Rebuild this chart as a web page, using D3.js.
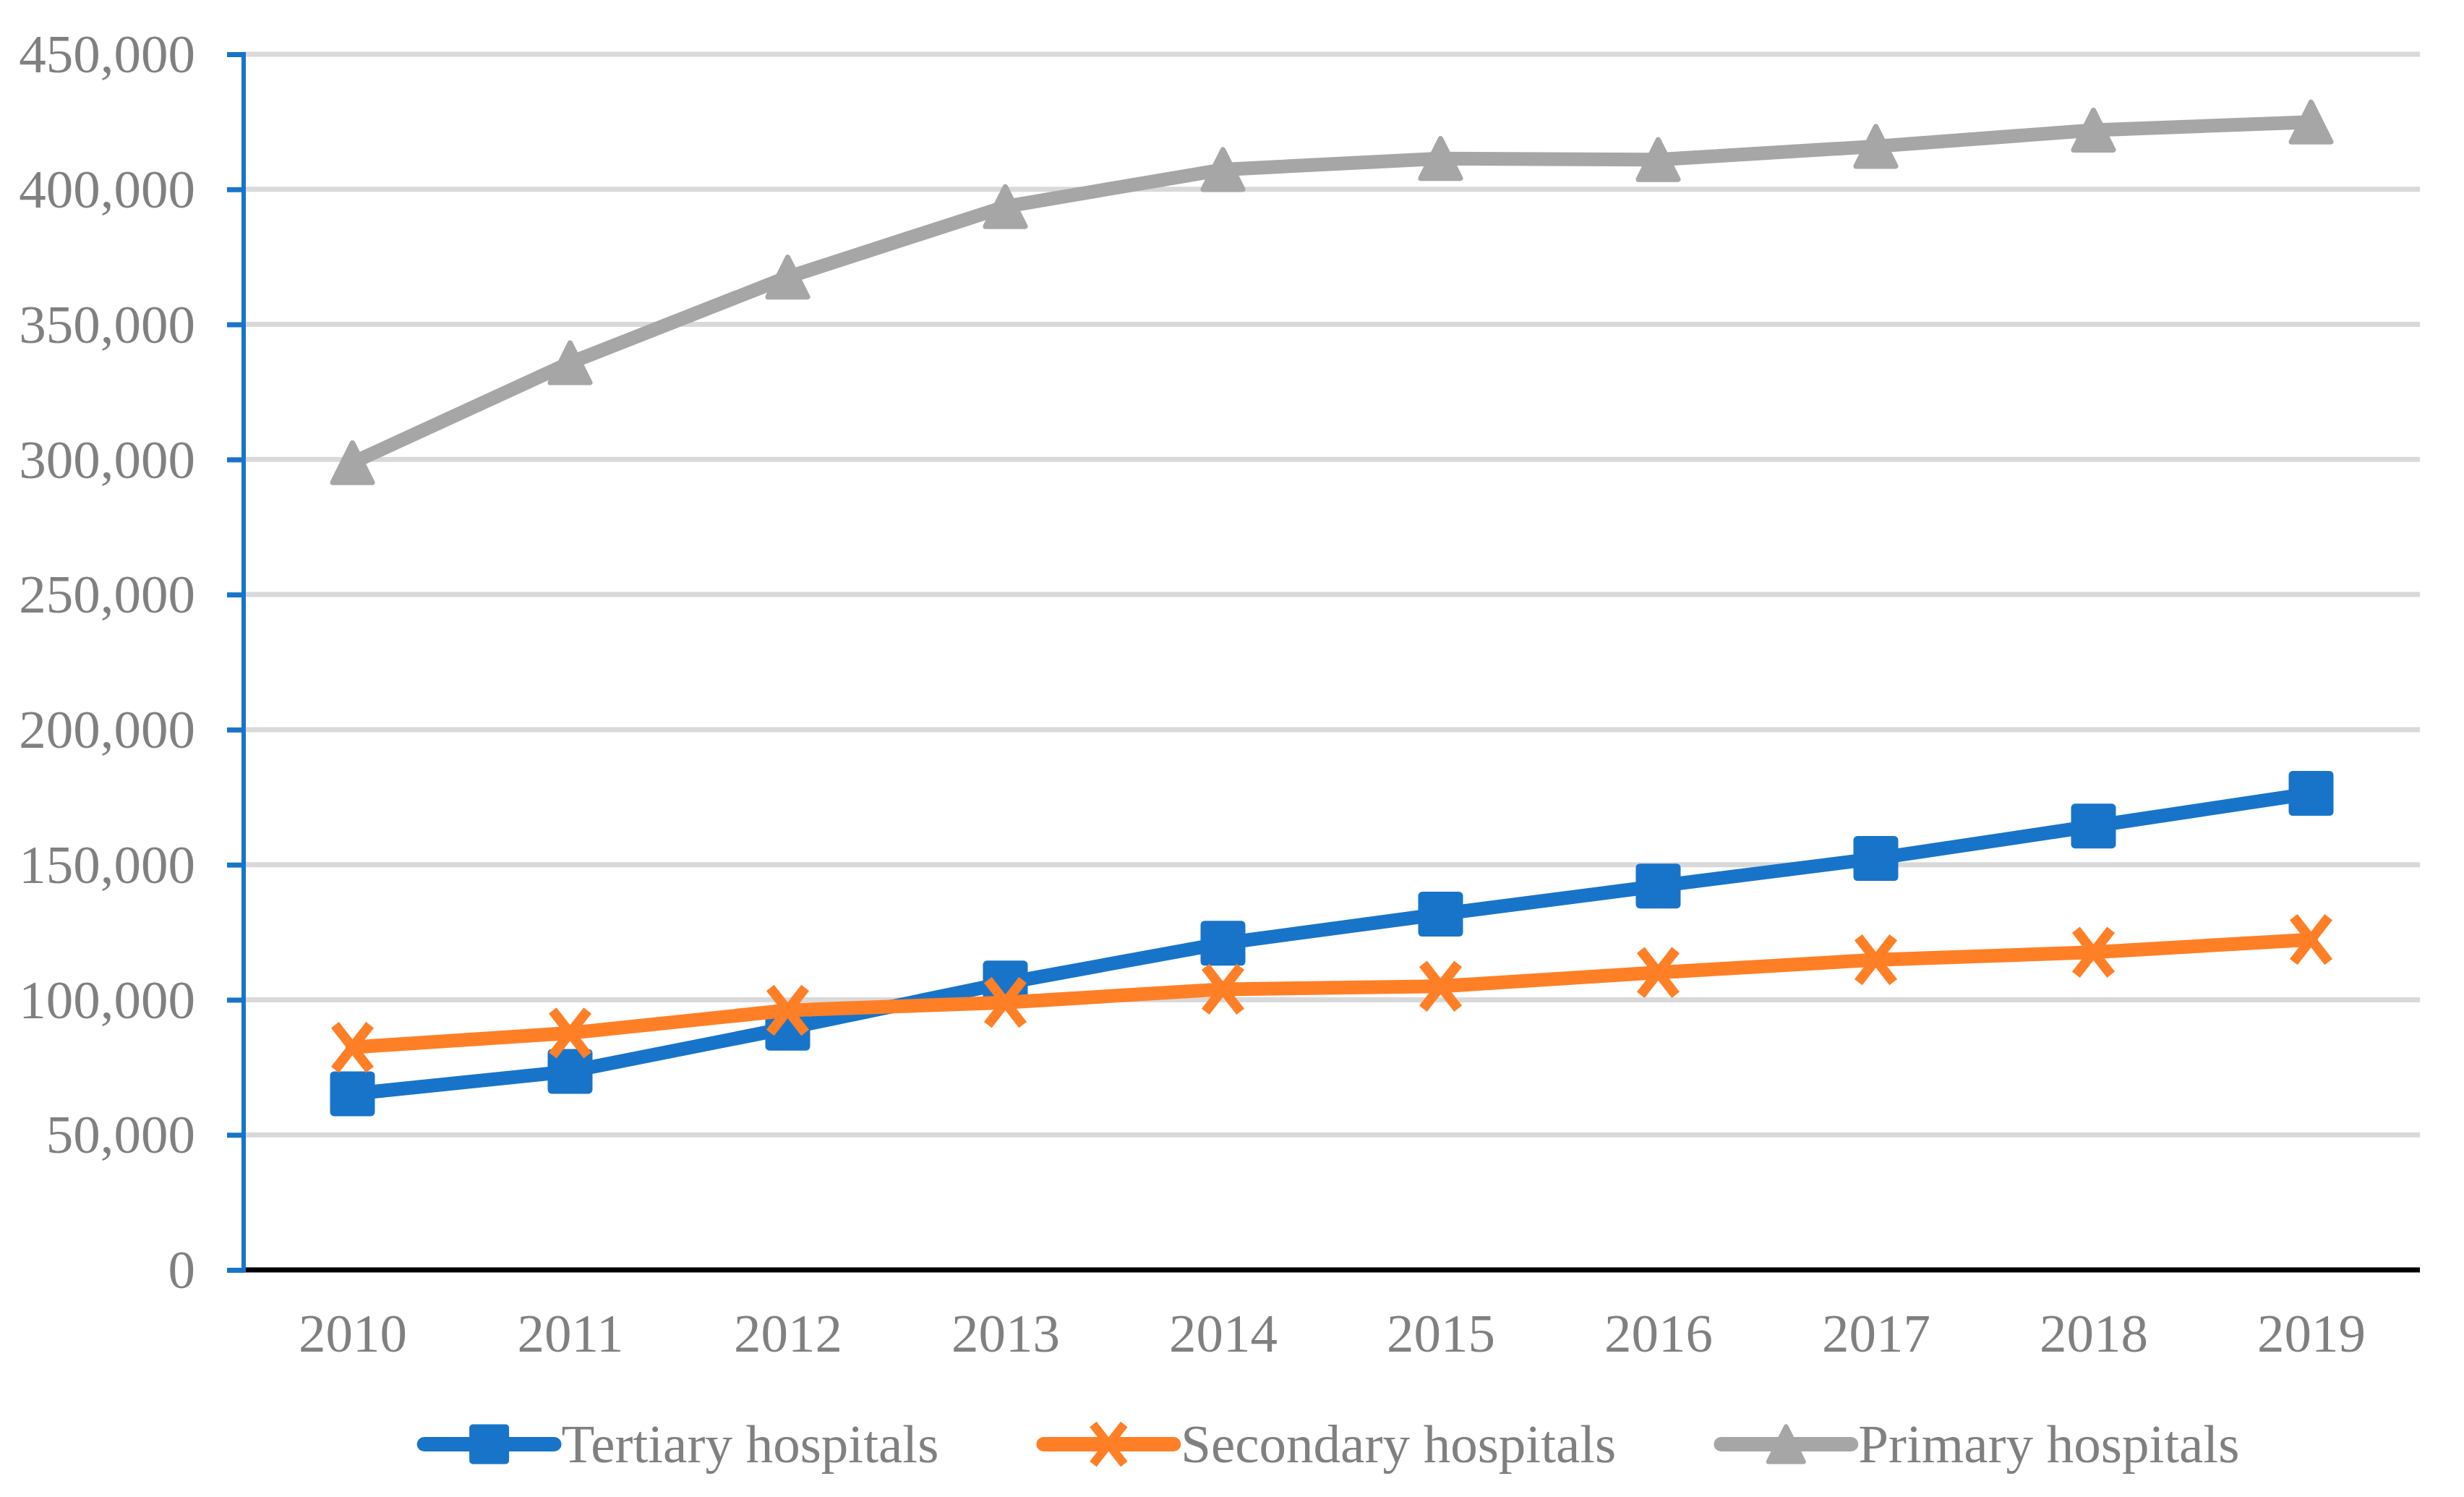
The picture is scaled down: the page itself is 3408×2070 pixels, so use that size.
<!DOCTYPE html>
<html>
<head>
<meta charset="utf-8">
<script src="https://cdn.jsdelivr.net/npm/d3@7"></script>
<style>
  html, body { margin: 0; padding: 0; background: #ffffff; }
  svg { display: block; }
</style>
</head>
<body>
<svg id="chart" width="3408" height="2070"></svg>
<script>
// ---- data ----
const years = ["2010","2011","2012","2013","2014","2015","2016","2017","2018","2019"];
const tertiary  = [65200, 73500, 89500, 106200, 120900, 131700, 142100, 152300, 164300, 176400];
const secondary = [82400, 87700, 96100, 99000, 103900, 105000, 110100, 114800, 117600, 122300];
const primary   = [298800, 335800, 367500, 393600, 407300, 411400, 411000, 415900, 421900, 424900];
const seriesNames = ["Tertiary hospitals", "Secondary hospitals", "Primary hospitals"];
const yTicks = [0, 50000, 100000, 150000, 200000, 250000, 300000, 350000, 400000, 450000];

// ---- layout ----
const W = 3408, H = 2070;
const plotL = 337, plotR = 3347, plotT = 75, plotB = 1756;
const FONT = "'Liberation Serif', 'Times New Roman', Times, serif";
const TEXT = "#808080";
const colors = ["#1874C9", "#FF7F27", "#A6A6A6"];
const shapes = ["square", "x", "triangle"];

const svg = d3.select("#chart");
svg.append("rect").attr("width", W).attr("height", H).attr("fill", "#fff");

const x = d3.scalePoint().domain(years).range([plotL, plotR]).padding(0.5);
const y = d3.scaleLinear().domain([0, 450000]).range([plotB, plotT]);

// gridlines
svg.append("g").selectAll("line").data(yTicks.filter(d => d > 0)).join("line")
  .attr("x1", plotL).attr("x2", plotR)
  .attr("y1", d => y(d)).attr("y2", d => y(d))
  .attr("stroke", "#D9D9D9").attr("stroke-width", 7);

// x axis
const xAxis = svg.append("g").attr("transform", `translate(0,${plotB})`)
  .call(d3.axisBottom(x).tickSize(0).tickPadding(0));
xAxis.select(".domain").attr("stroke", "#000").attr("stroke-width", 7)
  .attr("d", `M${plotL},0H${plotR}`);
xAxis.selectAll("text")
  .attr("y", 113).attr("dy", 0)
  .attr("font-family", FONT).attr("font-size", 75).attr("fill", TEXT);

// y axis
const yAxis = svg.append("g").attr("transform", `translate(${plotL},0)`)
  .call(d3.axisLeft(y).tickValues(yTicks).tickFormat(d3.format(",")).tickSize(23).tickPadding(0));
yAxis.select(".domain").attr("stroke", colors[0]).attr("stroke-width", 6)
  .attr("d", `M0,${plotB + 3}V${plotT - 3}`);
yAxis.selectAll(".tick line").attr("stroke", colors[0]).attr("stroke-width", 7);
yAxis.selectAll(".tick text")
  .attr("x", -67).attr("dy", "0.33em")
  .attr("font-family", FONT).attr("font-size", 75).attr("fill", TEXT);

// markers
function drawMarker(g, shape, color, cx, cy, size) {
  const h = size / 2;
  if (shape === "square") {
    g.append("rect").attr("x", cx - h).attr("y", cy - h)
      .attr("width", size).attr("height", size).attr("rx", size * 0.09)
      .attr("fill", color);
  } else if (shape === "triangle") {
    const r = size * 0.06;
    g.append("path")
      .attr("d", `M${cx},${cy - h + r}L${cx + h - r},${cy + h - r}L${cx - h + r},${cy + h - r}Z`)
      .attr("fill", color).attr("stroke", color).attr("stroke-width", 2 * r)
      .attr("stroke-linejoin", "round");
  } else {
    const a = h * 0.78;
    g.append("path")
      .attr("d", `M${cx - a},${cy - h}L${cx + a},${cy + h}M${cx + a},${cy - h}L${cx - a},${cy + h}`)
      .attr("fill", "none").attr("stroke", color).attr("stroke-width", size * 0.22)
      .attr("stroke-linecap", "butt");
  }
}

const allSeries = [tertiary, secondary, primary];
const line = d3.line().x((d, i) => x(years[i])).y(d => y(d));
allSeries.forEach((vals, si) => {
  const g = svg.append("g");
  g.append("path").attr("d", line(vals))
    .attr("fill", "none").attr("stroke", colors[si]).attr("stroke-width", 19)
    .attr("stroke-linejoin", "round").attr("stroke-linecap", "round");
  vals.forEach((v, i) => drawMarker(g, shapes[si], colors[si], x(years[i]), y(v), 62));
});

// legend
const legY = 1997, legLine = 180, legGap = 10, itemGap = 145;
const leg = svg.append("g");
const items = seriesNames.map((name, i) => {
  const t = leg.append("text").text(name)
    .attr("font-family", FONT).attr("font-size", 75).attr("fill", TEXT)
    .attr("y", 2022);
  return { t, w: t.node().getComputedTextLength(), i };
});
const totalW = items.reduce((s, it) => s + legLine + legGap + it.w, 0) + itemGap * (items.length - 1);
let cx0 = (plotL + plotR) / 2 - totalW / 2;
items.forEach(it => {
  leg.append("line").attr("x1", cx0).attr("x2", cx0 + legLine)
    .attr("y1", legY).attr("y2", legY)
    .attr("stroke", colors[it.i]).attr("stroke-width", 20).attr("stroke-linecap", "round");
  drawMarker(leg, shapes[it.i], colors[it.i], cx0 + legLine / 2, legY, 55);
  it.t.attr("x", cx0 + legLine + legGap);
  cx0 += legLine + legGap + it.w + itemGap;
});
</script>
</body>
</html>
